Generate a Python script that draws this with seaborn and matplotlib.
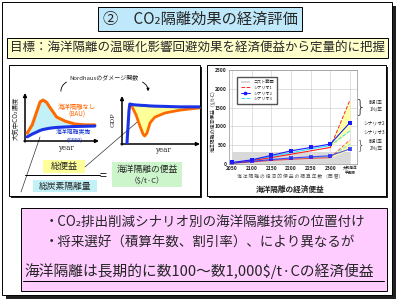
import matplotlib
matplotlib.use("Agg")
import matplotlib.pyplot as plt
from matplotlib.patches import Rectangle, Patch
from matplotlib.lines import Line2D
import seaborn as sns

# ---- right panel: economic benefit of ocean sequestration ($/t-C) ----
years = [2050, 2100, 2150, 2200, 2250, 2300, 2350]
year_labels = ['2050', '2100', '2150', '2200', '2250', '2300', '大気海洋\n平衡時']
cost_low = [0, 0, 0, 0, 0, 0, 0]
cost_high = [330, 330, 330, 330, 330, 330, 330]

# discount rate 1%/yr
sc1_d1 = [30, 90, 170, 260, 350, 440, 1700]
sc2_d1 = [40, 110, 230, 350, 440, 530, 1100]
sc3_d1 = [35, 100, 200, 300, 400, 490, 880]
# discount rate 2%/yr
sc1_d2 = [20, 55, 95, 125, 150, 170, 640]
sc2_d2 = [25, 70, 120, 160, 190, 220, 400]
sc3_d2 = [22, 62, 108, 142, 170, 195, 520]

# ---- left panel sketches (arbitrary units) ----
conc_x = [0.3, 1.0, 1.7, 2.1, 2.5, 3.0, 3.5, 4.4, 5.6, 6.9, 8.3, 9.7]
conc_bau = [1.7, 3.5, 6.7, 8.5, 8.9, 8.4, 7.2, 5.2, 4.3, 3.7, 3.5, 3.5]
conc_s550 = [0.9, 1.5, 2.0, 2.3, 2.5, 2.65, 2.8, 2.95, 3.05, 3.15, 3.2, 3.25]

gdp_x = [0.64, 0.9, 1.0, 1.3, 1.8, 2.3, 2.7, 2.9, 3.2, 3.6, 4.2, 5.5, 7.4, 10]
gdp_s550 = [0.2, 7.2, 8.5, 8.4, 8.3, 8.25, 8.2, 8.2, 8.15, 8.1, 8.05, 8.0, 7.9, 7.9]
gdp_bau = [7.9, 6.2, 3.8, 2.1, 1.7, 2.3, 4.5, 5.7, 6.6, 7.2, 7.7]  # from gdp_x[3:]

sns.set_style("white")
plt.rcParams['font.family'] = ['Noto Sans CJK JP', 'DejaVu Sans']

W, H = 400, 303
fig = plt.figure(figsize=(4, 3.03), dpi=100)


def px_axes(x0, y0, x1, y1):
    return fig.add_axes([x0 / W, 1 - y1 / H, (x1 - x0) / W, (y1 - y0) / H])


bg = fig.add_axes([0, 0, 1, 1])
bg.set_xlim(0, W)
bg.set_ylim(H, 0)
bg.axis('off')


def box(x0, y0, x1, y1, fc, lw=0.7, shadow=0):
    if shadow:
        bg.add_patch(Rectangle((x0 + shadow, y0 + shadow), x1 - x0, y1 - y0, fc='#202020', ec='none'))
    bg.add_patch(Rectangle((x0, y0), x1 - x0, y1 - y0, fc=fc, ec='black', lw=lw))


# outer frame, headers
box(2, 2, 392, 295, 'white', shadow=4)
box(98, 7, 302, 31, '#bfe9fb')
bg.text(200, 19.5, '②　CO₂隔離効果の経済評価', ha='center', va='center', fontsize=11)
box(7, 38, 388, 58, '#ffffcc')
bg.text(197, 48, '目標：海洋隔離の温暖化影響回避効果を経済便益から定量的に把握',
        ha='center', va='center', fontsize=9)

# panels
box(9, 65, 200, 196, 'white', shadow=2)
box(207, 65, 386, 196, 'white', shadow=2)

# bottom summary
box(21, 208, 387, 291, '#ffccff')
bg.text(45, 222, '・CO₂排出削減シナリオ別の海洋隔離技術の位置付け', ha='left', va='center', fontsize=9.7)
bg.text(45, 243, '・将来選好（積算年数、割引率）、により異なるが', ha='left', va='center', fontsize=9.7)
bg.text(24, 271, '海洋隔離は長期的に数100〜数1,000$/t·Cの経済便益', ha='left', va='center', fontsize=10.6)
bg.plot([23, 384], [281, 281], color='black', lw=0.7)

# ---- left concept plots ----
arrow_kw = dict(arrowstyle='-|>', color='black', lw=1.1, mutation_scale=5, shrinkA=0, shrinkB=0)
axl = px_axes(25, 95, 97, 141)
axl.set_xlim(0, 10)
axl.set_ylim(0, 10)
axl.axis('off')
axl.fill_between(conc_x, conc_s550, conc_bau, color='#c2f2f8', lw=0)
sns.lineplot(x=conc_x, y=conc_bau, color='#ff6a00', lw=2.2, ax=axl)
sns.lineplot(x=conc_x, y=conc_s550, color='#1a33e6', lw=2.2, ax=axl)
bg.annotate('', xy=(25, 93), xytext=(25, 142), arrowprops=arrow_kw)
bg.annotate('', xy=(99, 141), xytext=(24, 141), arrowprops=arrow_kw)
bg.text(16, 118, '大気中CO₂濃度', rotation=90, ha='center', va='center', fontsize=4.6)
bg.text(66, 148, 'year', ha='center', va='center', fontsize=5, family='DejaVu Serif')
bg.text(77, 107, '海洋隔離なし', color='#ff6600', ha='center', va='center', fontsize=4.6)
bg.text(77, 115, '(BAU)', color='#ff6600', ha='center', va='center', fontsize=4.6)
bg.text(73, 132, '海洋隔離実施', color='#1030d0', ha='center', va='center', fontsize=4.2)
bg.text(75, 139.8, '(S550)', color='#1030d0', ha='center', va='center', fontsize=4.0)

axg = px_axes(122, 97, 200, 144)
axg.set_xlim(0, 10)
axg.set_ylim(0, 10)
axg.axis('off')
axg.fill_between(gdp_x[3:], gdp_bau, gdp_s550[3:], color='#ffff99', lw=0)
sns.lineplot(x=gdp_x[3:], y=gdp_bau, color='#ff6a00', lw=2.0, ax=axg)
sns.lineplot(x=gdp_x, y=gdp_s550, color='#1a33e6', lw=2.2, ax=axg)
bg.annotate('', xy=(122, 96), xytext=(122, 145), arrowprops=arrow_kw)
bg.annotate('', xy=(200, 144), xytext=(121, 144), arrowprops=arrow_kw)
bg.text(113, 120, 'GDP', rotation=90, ha='center', va='center', fontsize=4.6, family='DejaVu Serif')
bg.text(163, 150, 'year', ha='center', va='center', fontsize=5, family='DejaVu Serif')

# Nordhaus damage function link
bg.text(104, 77, 'Nordhausのダメージ関数', ha='center', va='center', fontsize=4.3)
bg.annotate('', xy=(69, 81), xytext=(61, 94),
            arrowprops=dict(arrowstyle='-', connectionstyle='arc3,rad=-0.4', lw=0.6, color='black'))
bg.annotate('', xy=(148, 94), xytext=(140, 81),
            arrowprops=dict(arrowstyle='-|>', connectionstyle='arc3,rad=-0.4', lw=0.6,
                            color='black', mutation_scale=4))

# fraction
bg.plot([21, 40], [192, 137], color='#333333', lw=0.5)
bg.plot([85, 143], [167, 117], color='#333333', lw=0.5)
bg.add_patch(Rectangle((43, 160), 42, 13, fc='#ffff99', ec='none'))
bg.text(64, 166.5, '総便益', ha='center', va='center', fontsize=6.5)
bg.plot([25, 100], [175, 175], color='black', lw=0.7)
bg.add_patch(Rectangle((33, 180), 64, 12, fc='#c2f2f8', ec='none'))
bg.text(65, 186, '総炭素隔離量', ha='center', va='center', fontsize=6.3)
bg.text(103, 176, '=', ha='center', va='center', fontsize=9)
bg.add_patch(Rectangle((112, 162), 70, 25, fc='#ccf5cc', ec='none'))
bg.text(147, 169, '海洋隔離の便益', ha='center', va='center', fontsize=6.3)
bg.text(147, 181, '（$/t·C）', ha='center', va='center', fontsize=5.5)

# ---- right chart ----
red, blue, cyan = '#ff2020', '#1a1aff', '#33dcff'
ax = px_axes(229, 70, 357, 164)
ax.set_facecolor('white')
ax.fill_between(years, cost_low, cost_high, color='#d9d9d9', lw=0, zorder=1)
ext = years[5:]
for grp in [(sc1_d1, sc2_d1, sc3_d1), (sc1_d2, sc2_d2, sc3_d2)]:
    lo = [min(v) for v in zip(*[g[5:] for g in grp])]
    hi = [max(v) for v in zip(*[g[5:] for g in grp])]
    ax.fill_between(ext, lo, hi, color='#ffffa8', lw=0, zorder=2)

for s1, s2, s3, a in [(sc1_d1, sc2_d1, sc3_d1, 1.0), (sc1_d2, sc2_d2, sc3_d2, 0.75)]:
    sns.lineplot(x=years[:6], y=s3[:6], color=cyan, lw=0.8, alpha=a, ax=ax)
    sns.lineplot(x=ext, y=s3[5:], color=cyan, lw=0.7, ls='--', alpha=a, ax=ax)
    sns.lineplot(x=years[:6], y=s1[:6], color=red, lw=0.8, alpha=a, ax=ax)
    sns.lineplot(x=ext, y=s1[5:], color=red, lw=0.7, ls='--', alpha=a, ax=ax)
    sns.lineplot(x=years, y=s2, color=blue, lw=0.8, alpha=a, marker='s',
                 markersize=2.2, markeredgewidth=0, ax=ax)

ax.set_xlim(2042, 2368)
ax.set_ylim(0, 2500)
ax.set_xticks(years)
ax.set_xticklabels(year_labels)
ax.set_yticks([0, 500, 1000, 1500, 2000, 2500])
ax.tick_params(labelsize=3.6, length=0, pad=1.5)
for lbl in ax.get_xticklabels() + ax.get_yticklabels():
    lbl.set_fontweight('bold')
ax.get_xticklabels()[-1].set_fontsize(2.6)
ax.grid(True, color='#c8c8c8', lw=0.4)
ax.set_axisbelow(True)
for sp in ax.spines.values():
    sp.set_color('#909090')
    sp.set_linewidth(0.5)

handles = [Patch(fc='#d9d9d9', ec='none', label='コスト範囲'),
           Line2D([], [], color=red, lw=0.7, ls='--', label='シナリオ1'),
           Line2D([], [], color=blue, lw=0.7, marker='s', markersize=2, label='シナリオ2'),
           Line2D([], [], color=cyan, lw=0.7, ls='--', label='シナリオ3')]
ax.legend(handles=handles, loc='upper left', bbox_to_anchor=(0.05, 0.95), fontsize=3,
          frameon=True, edgecolor='#555555', fancybox=False, framealpha=1,
          handlelength=2.2, borderpad=0.8, labelspacing=0.35)

bg.text(213, 120, '海洋隔離の経済便益（$/t-C）', rotation=90, ha='center', va='center', fontsize=3.5)
bg.text(290, 177, '海 洋 隔 離 の 経 済 的 便 益 の 積 算 年 数 （西 暦）',
        ha='center', va='center', fontsize=3.4, color='#555555')
bg.text(290, 189, '海洋隔離の経済便益', ha='center', va='center', fontsize=5.5, fontweight='bold')

bg.text(349, 99, 'シナリオ1', ha='right', va='center', fontsize=3.4)
bg.text(363, 123, 'シナリオ2', ha='left', va='center', fontsize=3.4)
bg.text(363, 132, 'シナリオ3', ha='left', va='center', fontsize=3.4)
bg.text(361, 107, '}', ha='center', va='center', fontsize=13, family='DejaVu Sans', fontweight='light')
bg.text(361, 145, '}', ha='center', va='center', fontsize=9, family='DejaVu Sans', fontweight='light')
bg.text(376, 106, '割引率\n1%/年', ha='center', va='center', fontsize=3.3, linespacing=1.3)
bg.text(376, 145, '割引率\n2%/年', ha='center', va='center', fontsize=3.3, linespacing=1.3)

fig.savefig('out.png', dpi=100)
